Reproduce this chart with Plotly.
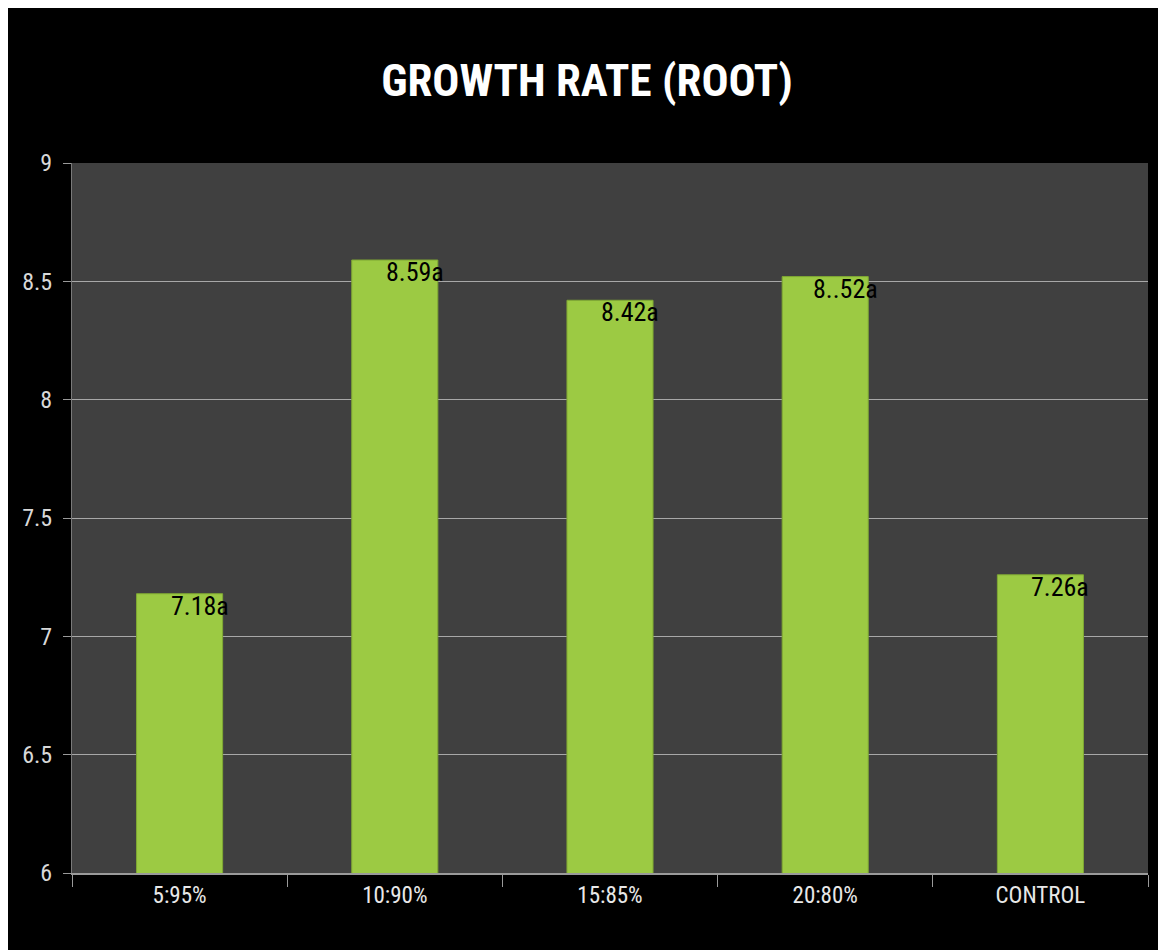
import plotly.graph_objects as go

categories = ["5:95%", "10:90%", "15:85%", "20:80%", "CONTROL"]
values = [7.18, 8.59, 8.42, 8.52, 7.26]
labels = ["7.18a", "8.59a", "8.42a", "8..52a", "7.26a"]
y_ticks = [6, 6.5, 7, 7.5, 8, 8.5, 9]
y_tick_text = ["6", "6.5", "7", "7.5", "8", "8.5", "9"]

# page body adds an 8px white margin at left/top, like the reference border
W, H = 1158, 942
L, R, T, B = 64, 18, 155, 77

font_c = "Roboto Condensed, Liberation Sans Narrow, DejaVu Sans Condensed, sans-serif"

fig = go.Figure()
fig.add_trace(go.Bar(
    x=categories, y=values,
    marker=dict(color="#9cca43", line=dict(color="#7fa833", width=1)),
    width=0.4,
    hoverinfo="x+y",
))

for c, v, t in zip(categories, values, labels):
    fig.add_annotation(x=c, y=v, text=t, showarrow=False,
                       xanchor="center", yanchor="top", xshift=20, yshift=5,
                       font=dict(family=font_c, size=26, color="#000000"))

fig.update_layout(
    width=W, height=H,
    margin=dict(l=L, r=R, t=T, b=B, pad=0),
    paper_bgcolor="#000000",
    plot_bgcolor="#404040",
    showlegend=False,
    bargap=0.6,
    title=dict(text="<b>GROWTH RATE (ROOT)</b>", x=0.5, xanchor="center",
               y=1 - 72 / H, yanchor="middle",
               font=dict(family=font_c, size=45, color="#ffffff")),
    xaxis=dict(
        showgrid=False, showline=True, linecolor="#9a9a9a", linewidth=2,
        ticks="outside", tickson="boundaries", ticklen=12, tickcolor="#9a9a9a",
        tickfont=dict(family=font_c, size=23, color="#e8e8e8"),
        fixedrange=True,
    ),
    yaxis=dict(
        range=[6, 9], tickvals=y_ticks, ticktext=y_tick_text,
        showgrid=True, gridcolor="#a8a8a8", gridwidth=1,
        showline=True, linecolor="#7a7a7a", linewidth=1,
        ticks="outside", ticklen=8, tickcolor="#9a9a9a",
        ticklabelstandoff=6,
        tickfont=dict(family=font_c, size=24, color="#d8d8d8"),
        zeroline=False, fixedrange=True,
    ),
)

fig.write_html("out.html")
